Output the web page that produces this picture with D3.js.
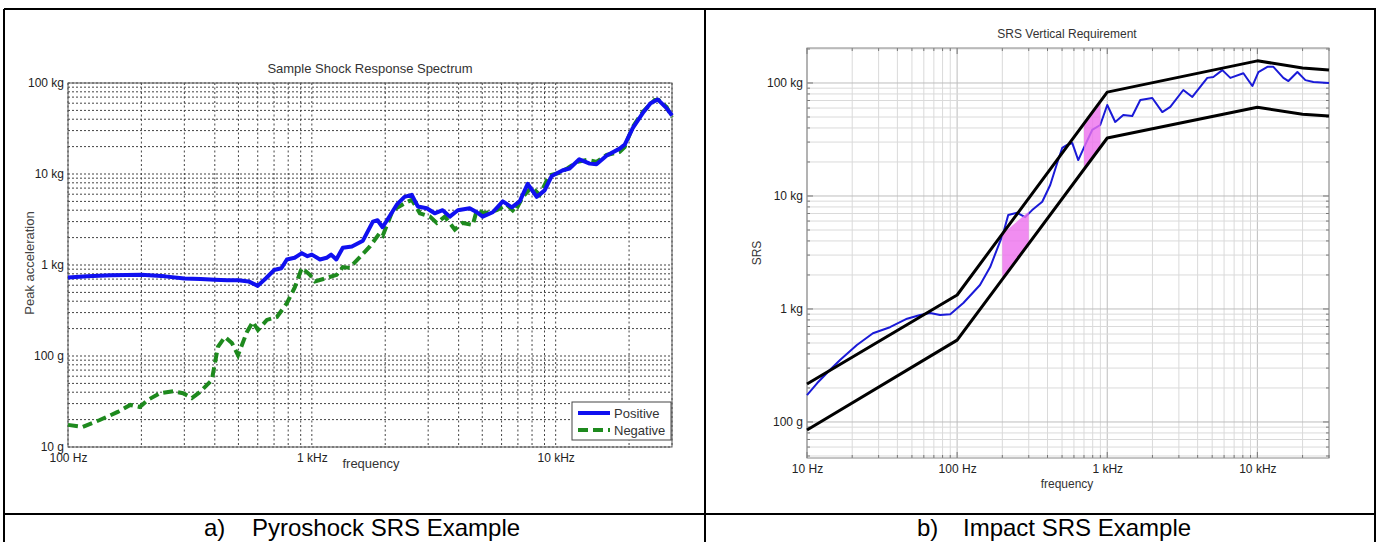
<!DOCTYPE html>
<html>
<head>
<meta charset="utf-8">
<script src="https://cdn.jsdelivr.net/npm/d3@7.9.0/dist/d3.min.js"></script>
<style>
body { margin: 0; background: #fff; }
svg { display: block; font-family: "Liberation Sans", Arial, sans-serif; }
</style>
</head>
<body>
<script>
// ---- panel a: pyroshock SRS (Hz, kg) ----
const posFreq = [100, 120, 150, 200, 250, 300, 350, 400, 450, 500, 550, 600, 650, 700, 750, 790, 850, 910, 960, 1000,
  1080, 1150, 1200, 1260, 1340, 1460, 1620, 1780, 1860, 1950, 2050, 2230, 2400, 2570, 2720, 2960, 3190, 3440, 3680, 3970,
  4440, 4750, 5020, 5520, 6070, 6610, 7120, 7680, 8360, 9010, 9630, 10700, 11400, 12500, 13800, 14700, 16200, 18300,
  19200, 20700, 22800, 24500, 26200, 28500, 30000];
const posAccel = [0.73, 0.75, 0.77, 0.78, 0.75, 0.71, 0.70, 0.69, 0.68, 0.68, 0.66, 0.59, 0.72, 0.88, 0.92, 1.15, 1.2, 1.35, 1.25, 1.3,
  1.15, 1.2, 1.3, 1.15, 1.55, 1.6, 1.85, 3.0, 3.1, 2.6, 3.2, 4.6, 5.6, 5.9, 4.4, 4.2, 3.7, 4.0, 3.4, 4.0,
  4.2, 3.8, 3.4, 3.8, 5.0, 4.3, 5.0, 7.8, 5.6, 6.6, 9.5, 11, 11.5, 14.5, 13, 12.8, 16, 19,
  21, 32, 47, 60, 66, 53, 44];

const negFreq = [100, 115, 135, 160, 180, 197, 213, 238, 270, 296, 322, 347, 389, 412, 440, 470, 498, 542, 573, 601,
  654, 719, 790, 852, 910, 982, 1030, 1150, 1265, 1340, 1430, 1574, 1730, 1900, 1954, 2148, 2450, 2570, 2773, 3050,
  3254, 3510, 3857, 4160, 4570, 4748, 5120, 5730, 6300, 6790, 7330, 7980, 8600, 9440, 10370, 11190, 12300, 13520,
  14730, 16190, 18290, 19180, 20690, 22750, 25470, 26460, 28520, 30000];
const negAccel = [0.0175, 0.0166, 0.0198, 0.0243, 0.029, 0.0275, 0.033, 0.039, 0.041, 0.039, 0.0345, 0.040, 0.0545, 0.126, 0.162, 0.139, 0.102, 0.184, 0.237, 0.193,
  0.249, 0.268, 0.38, 0.57, 0.93, 0.78, 0.66, 0.72, 0.78, 0.95, 0.93, 1.22, 1.6, 2.25, 2.1, 4.0, 4.9, 5.2, 3.7, 3.4,
  2.9, 3.4, 2.45, 2.9, 2.75, 4.0, 3.7, 4.0, 4.6, 3.8, 5.6, 7.2, 5.9, 9.7, 10.3, 11.6, 13.6, 14.3,
  13.6, 16.2, 17.5, 19.8, 32.8, 48, 65, 65, 54.5, 42];

const seriesNames = ["Positive", "Negative"];

// ---- panel b: impact SRS requirement (Hz, kg) ----
const envFreq = [10, 100, 1000, 10000, 20000, 30000];
const envUpper = [0.217, 1.33, 83, 157, 136, 130];
const envLower = [0.085, 0.53, 32.6, 61, 53, 51];

const srsFreq = [10, 11.7, 14.2, 16.6, 21.5, 27.5, 35.7, 46.4, 56.7, 66, 77, 90, 110, 142, 166, 203, 219, 251, 284, 316,
  369, 417, 464, 501, 541, 585, 641, 713, 794, 898, 1000, 1130, 1279, 1468, 1660, 1995, 2327, 2630, 3210, 3687,
  4640, 5090, 5843, 6607, 8070, 9260, 10160, 11660, 12790, 14900, 16100, 18480, 20890, 23600, 30000];
const srsAccel = [0.173, 0.221, 0.288, 0.354, 0.48, 0.61, 0.69, 0.82, 0.885, 0.92, 0.885, 0.9, 1.13, 1.63, 2.35, 4.7, 6.8, 7.1, 6.5, 7.5,
  8.9, 12.5, 19.6, 26.6, 28.3, 29.4, 20.8, 28.3, 38.4, 42.5, 63.8, 45.2, 52, 51, 70.8, 73.6, 55.3, 61.4, 86.7, 75.2,
  111, 113, 130, 111, 122, 94, 125, 139, 139, 111, 104, 125, 106, 102, 100];

// shaded bands: [start, end] frequency, low and high edges at each end
const bandFreq = [[200, 300], [700, 900]];
const bandLow = [[1.84, 3.8], [18, 27.5]];
const bandHigh = [[4.6, 7.3], [42, 66]];

// ---- ticks ----
const xTicksA = [100, 1000, 10000], xLabelsA = ["100 Hz", "1 kHz", "10 kHz"];
const yTicksA = [0.01, 0.1, 1, 10, 100], yLabelsA = ["10 g", "100 g", "1 kg", "10 kg", "100 kg"];
const xTicksB = [10, 100, 1000, 10000], xLabelsB = ["10 Hz", "100 Hz", "1 kHz", "10 kHz"];
const yTicksB = [0.1, 1, 10, 100], yLabelsB = ["100 g", "1 kg", "10 kg", "100 kg"];

const width = 1378, height = 542;
const svg = d3.select("body").append("svg")
    .attr("width", width)
    .attr("height", height);

// table frame
const frame = svg.append("g").attr("stroke", "#000").attr("stroke-width", 2);
frame.append("line").attr("x1", 4).attr("x2", 1376).attr("y1", 9).attr("y2", 9);
frame.append("line").attr("x1", 4).attr("x2", 1376).attr("y1", 514).attr("y2", 514);
frame.append("line").attr("x1", 4).attr("x2", 4).attr("y1", 9).attr("y2", 542);
frame.append("line").attr("x1", 1375).attr("x2", 1375).attr("y1", 9).attr("y2", 542);
frame.append("line").attr("x1", 705).attr("x2", 705).attr("y1", 9).attr("y2", 542);

function caption(x1, x2, label, rest) {
    const t = svg.append("text").attr("x", x1).attr("y", 536)
        .attr("font-size", 24).attr("fill", "#000");
    t.append("tspan").text(label);
    t.append("tspan").attr("x", x2).text(rest);
}
caption(204, 252, "a)", "Pyroshock SRS Example");
caption(917, 963, "b)", "Impact SRS Example");

function styleAxis(g, size) {
    g.select(".domain").remove();
    g.selectAll("text").attr("font-size", size).attr("fill", "#222")
        .attr("font-family", "Liberation Sans, Arial, sans-serif");
}

// ================= panel a =================
const xA = d3.scaleLog().domain([100, 30000]).range([68, 672]);
const yA = d3.scaleLog().domain([0.01, 100]).range([447, 83]);
const gA = svg.append("g");

gA.selectAll(".vgrid").data(xA.ticks()).join("line")
    .attr("x1", d => xA(d)).attr("x2", d => xA(d))
    .attr("y1", 83).attr("y2", 447)
    .attr("stroke", "#444").attr("stroke-width", 1).attr("stroke-dasharray", "2,2.5");
gA.selectAll(".hgrid").data(yA.ticks()).join("line")
    .attr("x1", 68).attr("x2", 672)
    .attr("y1", d => yA(d)).attr("y2", d => yA(d))
    .attr("stroke", "#444").attr("stroke-width", 1).attr("stroke-dasharray", "2,2");

gA.append("rect").attr("x", 68).attr("y", 83).attr("width", 604).attr("height", 364)
    .attr("fill", "none").attr("stroke", "#555").attr("stroke-width", 1);

const lineA = d3.line().x(d => xA(d[0])).y(d => yA(d[1]));
gA.append("path").datum(negFreq.map((f, i) => [f, negAccel[i]]))
    .attr("d", lineA).attr("fill", "none")
    .attr("stroke", "#1e8a1e").attr("stroke-width", 4).attr("stroke-dasharray", "10,5");
gA.append("path").datum(posFreq.map((f, i) => [f, posAccel[i]]))
    .attr("d", lineA).attr("fill", "none")
    .attr("stroke", "#1010f0").attr("stroke-width", 4).attr("stroke-linejoin", "round");

gA.append("g").attr("transform", "translate(0,447)")
    .call(d3.axisBottom(xA).tickValues(xTicksA).tickFormat((d, i) => xLabelsA[i]).tickSize(0).tickPadding(6))
    .call(g => styleAxis(g, 12));
gA.append("g").attr("transform", "translate(68,0)")
    .call(d3.axisLeft(yA).tickValues(yTicksA).tickFormat((d, i) => yLabelsA[i]).tickSize(0).tickPadding(4))
    .call(g => styleAxis(g, 12));

gA.append("text").attr("x", 370).attr("y", 73).attr("text-anchor", "middle")
    .attr("font-size", 13).attr("fill", "#333").text("Sample Shock Response Spectrum");
gA.append("text").attr("x", 371).attr("y", 468).attr("text-anchor", "middle")
    .attr("font-size", 13).attr("fill", "#333").text("frequency");
gA.append("text").attr("transform", "translate(34,263) rotate(-90)").attr("text-anchor", "middle")
    .attr("font-size", 13).attr("fill", "#444").text("Peak acceleration");

// legend
const leg = gA.append("g");
leg.append("rect").attr("x", 572).attr("y", 402).attr("width", 99).attr("height", 38)
    .attr("fill", "#fff").attr("stroke", "#444").attr("stroke-width", 1);
leg.append("line").attr("x1", 578).attr("x2", 610).attr("y1", 413).attr("y2", 413)
    .attr("stroke", "#1010f0").attr("stroke-width", 4);
leg.append("line").attr("x1", 578).attr("x2", 610).attr("y1", 430).attr("y2", 430)
    .attr("stroke", "#1e8a1e").attr("stroke-width", 4).attr("stroke-dasharray", "10,5");
leg.selectAll(".lt").data(seriesNames).join("text")
    .attr("x", 614).attr("y", (d, i) => 418 + i * 17)
    .attr("font-size", 13).attr("fill", "#333").text(d => d);

// ================= panel b =================
const xB = d3.scaleLog().domain([10, 30000]).range([807, 1329]);
const yB = d3.scaleLog().domain([0.048, 204]).range([458, 48]);
const gB = svg.append("g");
const isMajor = d => Math.abs(Math.log10(d) - Math.round(Math.log10(d))) < 1e-9;

gB.selectAll(".vgrid").data(xB.ticks()).join("line")
    .attr("x1", d => xB(d)).attr("x2", d => xB(d))
    .attr("y1", 48).attr("y2", 458)
    .attr("stroke", d => isMajor(d) ? "#bdbdbd" : "#dadada").attr("stroke-width", 1);
gB.selectAll(".hgrid").data(yB.ticks()).join("line")
    .attr("x1", 807).attr("x2", 1329)
    .attr("y1", d => yB(d)).attr("y2", d => yB(d))
    .attr("stroke", d => isMajor(d) ? "#bdbdbd" : "#dadada").attr("stroke-width", 1);

// inner ticks
gB.selectAll(".ytk").data(yB.ticks()).join("path")
    .attr("d", d => {
        const y = yB(d), l = isMajor(d) ? 6 : 3;
        return `M807,${y}h${l}M1329,${y}h${-l}`;
    })
    .attr("stroke", "#777").attr("stroke-width", 1);
gB.selectAll(".xtk").data(xB.ticks()).join("path")
    .attr("d", d => {
        const x = xB(d), l = isMajor(d) ? 6 : 3;
        return `M${x},458v${-l}M${x},48v${l}`;
    })
    .attr("stroke", "#777").attr("stroke-width", 1);

gB.append("rect").attr("x", 807).attr("y", 48).attr("width", 522).attr("height", 410)
    .attr("fill", "none").attr("stroke", "#888").attr("stroke-width", 1);

const lineB = d3.line().x(d => xB(d[0])).y(d => yB(d[1]));
gB.append("path").datum(srsFreq.map((f, i) => [f, srsAccel[i]]))
    .attr("d", lineB).attr("fill", "none")
    .attr("stroke", "#1a1ad8").attr("stroke-width", 2).attr("stroke-linejoin", "round");

gB.selectAll(".band").data(bandFreq).join("path")
    .attr("d", (f, i) => lineB([[f[0], bandLow[i][0]], [f[1], bandLow[i][1]],
                               [f[1], bandHigh[i][1]], [f[0], bandHigh[i][0]]]) + "Z")
    .attr("fill", "#ee70ee").attr("fill-opacity", 0.8);

[envUpper, envLower].forEach(vals => {
    gB.append("path").datum(envFreq.map((f, i) => [f, vals[i]]))
        .attr("d", lineB).attr("fill", "none")
        .attr("stroke", "#000").attr("stroke-width", 3).attr("stroke-linejoin", "round");
});

gB.append("g").attr("transform", "translate(0,458)")
    .call(d3.axisBottom(xB).tickValues(xTicksB).tickFormat((d, i) => xLabelsB[i]).tickSize(0).tickPadding(6))
    .call(g => styleAxis(g, 12));
gB.append("g").attr("transform", "translate(807,0)")
    .call(d3.axisLeft(yB).tickValues(yTicksB).tickFormat((d, i) => yLabelsB[i]).tickSize(0).tickPadding(4))
    .call(g => styleAxis(g, 12));

gB.append("text").attr("x", 1067).attr("y", 38).attr("text-anchor", "middle")
    .attr("font-size", 12).attr("fill", "#333").text("SRS Vertical Requirement");
gB.append("text").attr("x", 1067).attr("y", 488).attr("text-anchor", "middle")
    .attr("font-size", 12).attr("fill", "#333").text("frequency");
gB.append("text").attr("transform", "translate(761,253) rotate(-90)").attr("text-anchor", "middle")
    .attr("font-size", 12).attr("fill", "#333").text("SRS");
</script>
</body>
</html>
